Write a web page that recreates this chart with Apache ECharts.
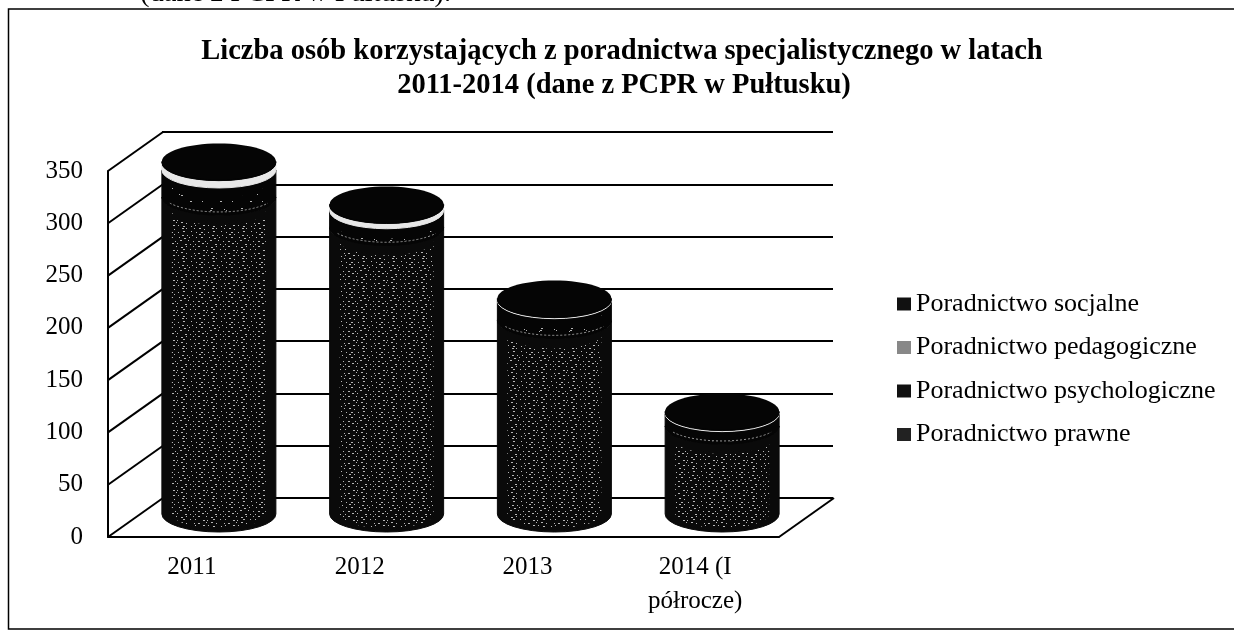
<!DOCTYPE html>
<html>
<head>
<meta charset="utf-8">
<style>html,body{margin:0;padding:0;background:#fff}#c{width:1234px;height:630px}</style>
<script src="https://cdn.jsdelivr.net/npm/echarts@6/dist/echarts.min.js"></script>
</head>
<body>
<div id="c"></div>
<script>
const categories = ['2011', '2012', '2013', '2014 (I\npółrocze)'];
const prawne = [303, 274, 185, 84];
const psychologiczne = [26, 16, 19, 12];
const pedagogiczne = [7, 5, 1, 1];
const socjalne = [1, 1, 1, 1];
const yTicks = [0, 50, 100, 150, 200, 250, 300, 350];
const seriesNames = ['Poradnictwo prawne', 'Poradnictwo psychologiczne', 'Poradnictwo pedagogiczne', 'Poradnictwo socjalne'];
const legendOrder = ['Poradnictwo socjalne', 'Poradnictwo pedagogiczne', 'Poradnictwo psychologiczne', 'Poradnictwo prawne'];
const title1 = 'Liczba osób korzystających z poradnictwa specjalistycznego w latach';
const title2 = '2011-2014 (dane z PCPR w Pułtusku)';
const cutCaption = '(dane z PCPR w Pułtusku).';

const FONT = '"Liberation Serif","Times New Roman",serif';
const DEPTH_X = 55, DEPTH_Y = -39;
const CYL_DX = 27, CYL_DY = -23, RX = 57, RY = 18;

// fixed speckle tiles for the scanned, dithered look
function tile(step) {
  const c = document.createElement('canvas');
  c.width = c.height = 30;
  const g = c.getContext('2d');
  g.fillStyle = 'rgba(255,255,255,0.7)';
  const shift = [0, 2, 1, 3, 1, 0, 2];
  for (let y = 0, row = 0; y < 30; y += step, row++) {
    for (let x = (row % 2) * step, n = 0; x < 30; x += step * 2, n++) {
      g.fillRect(x + shift[(row + n) % 7] % step, y + shift[(row * 2 + n) % 7] % 2, 1 + (n % 3 === 0 ? 1 : 0), 1);
    }
  }
  return c;
}
const denseTile = tile(3), sparseTile = tile(7);

const stacks = [prawne, psychologiczne, pedagogiczne, socjalne];
function segData(k) {
  return categories.map((_, i) => {
    let base = 0;
    for (let s = 0; s < k; s++) base += stacks[s][i];
    return [i, base, base + stacks[k][i]];
  });
}

function cylRender(fill, inner, edge) {
  return function (params, api) {
    const i = api.value(0);
    const p0 = api.coord([i, api.value(1)]);
    const p1 = api.coord([i, api.value(2)]);
    const cx = p0[0] + CYL_DX, yb = p0[1] + CYL_DY, yt = p1[1] + CYL_DY;
    const l = cx - RX, r = cx + RX;
    const body = `M${l} ${yt} L${l} ${yb} A${RX} ${RY} 0 0 0 ${r} ${yb} L${r} ${yt} A${RX} ${RY} 0 0 1 ${l} ${yt} Z`;
    const il = cx - 47, ir = cx + 47;
    const innerD = `M${il} ${yt + 14} L${il} ${yb} A47 14 0 0 0 ${ir} ${yb} L${ir} ${yt + 14} A47 14 0 0 1 ${il} ${yt + 14} Z`;
    const children = [
      { type: 'path', shape: { pathData: body }, style: { fill: fill, stroke: fill, lineWidth: 1 } },
      { type: 'ellipse', shape: { cx: cx, cy: yt, rx: RX, ry: RY }, style: { fill: fill === '#e8e8e8' ? '#000' : fill } }
    ];
    if (inner && yb - yt > 4) {
      children.push({ type: 'path', shape: { pathData: innerD }, style: { fill: { image: inner, repeat: 'repeat' } } });
    }
    if (edge) {
      const arc = `M${l + 8} ${yb + 6} A${RX} ${RY} 0 0 0 ${r - 8} ${yb + 6}`;
      children.push({ type: 'path', shape: { pathData: arc }, style: { fill: null, stroke: edge, lineWidth: 1, lineDash: [2, 2] } });
    }
    return { type: 'group', children: children };
  };
}

function wallRender(params, api) {
  const v = api.value(0);
  const band = api.size([1, 0])[0];
  const p = api.coord([0, v]);
  const x = p[0] - band / 2;
  return { type: 'line', shape: { x1: x, y1: p[1], x2: x + DEPTH_X, y2: p[1] + DEPTH_Y }, style: { stroke: '#000', lineWidth: 2 } };
}
function floorRender(params, api) {
  const band = api.size([1, 0])[0];
  const p = api.coord([categories.length - 1, 0]);
  const x = p[0] + band / 2;
  return { type: 'line', shape: { x1: x, y1: p[1], x2: x + DEPTH_X, y2: p[1] + DEPTH_Y }, style: { stroke: '#000', lineWidth: 2 } };
}

const chart = echarts.init(document.getElementById('c'), null, { renderer: 'canvas' });
chart.setOption({
  animation: false,
  backgroundColor: '#fff',
  textStyle: { fontFamily: FONT, color: '#000' },
  grid: [
    { left: 108, top: 171, width: 671, height: 366 },
    { left: 162, top: 132, width: 671, height: 366 }
  ],
  xAxis: [
    {
      type: 'category', gridIndex: 0, data: categories,
      axisLine: { lineStyle: { color: '#000', width: 2 } }, axisTick: { show: false },
      axisLabel: { fontFamily: FONT, fontSize: 25, color: '#000', margin: 13, lineHeight: 34 }
    },
    { type: 'category', gridIndex: 1, data: categories, show: false }
  ],
  yAxis: [
    {
      type: 'value', gridIndex: 0, min: 0, max: 350, interval: 50,
      axisLine: { show: true, lineStyle: { color: '#000', width: 2 } }, axisTick: { show: false },
      splitLine: { show: false },
      axisLabel: { fontFamily: FONT, fontSize: 25, color: '#000', margin: 25, padding: [3, 0, 0, 0] }
    },
    {
      type: 'value', gridIndex: 1, min: 0, max: 350, interval: 50,
      axisLine: { show: false }, axisTick: { show: false }, axisLabel: { show: false },
      splitLine: { show: true, lineStyle: { color: '#000', width: 2 } }
    }
  ],
  legend: {
    orient: 'vertical', left: 897, top: 291, padding: 0, itemWidth: 14, itemHeight: 13, itemGap: 17.5,
    icon: 'rect', data: legendOrder,
    textStyle: { fontFamily: FONT, fontSize: 26, color: '#000' }
  },
  graphic: [
    { type: 'text', z: 10, style: { x: 622, y: 52, text: title1, align: 'center', verticalAlign: 'middle', font: 'bold 28.5px ' + FONT, fill: '#000' } },
    { type: 'text', z: 10, style: { x: 624, y: 86, text: title2, align: 'center', verticalAlign: 'middle', font: 'bold 28.5px ' + FONT, fill: '#000' } },
    { type: 'text', z: 10, style: { x: 140, y: -6, text: cutCaption, align: 'left', verticalAlign: 'middle', font: '28.5px ' + FONT, fill: '#000' } },
    { type: 'rect', z: 9, shape: { x: 8.5, y: 9, width: 1240, height: 620 }, style: { fill: null, stroke: '#000', lineWidth: 1.5 } }
  ],
  series: [
    { type: 'custom', xAxisIndex: 0, yAxisIndex: 0, z: 1, silent: true, renderItem: wallRender, data: yTicks.map(v => [v]), encode: { y: 0 }, clip: false },
    { type: 'custom', xAxisIndex: 0, yAxisIndex: 0, z: 1, silent: true, renderItem: floorRender, data: [[0]], clip: false },
    { name: seriesNames[0], type: 'custom', z: 3, xAxisIndex: 0, yAxisIndex: 0, clip: false, itemStyle: { color: '#222' }, renderItem: cylRender('#0a0a0a', denseTile, null), data: segData(0), encode: { x: 0, y: [1, 2] } },
    { name: seriesNames[1], type: 'custom', z: 4, xAxisIndex: 0, yAxisIndex: 0, clip: false, itemStyle: { color: '#111' }, renderItem: cylRender('#050505', sparseTile, '#999'), data: segData(1), encode: { x: 0, y: [1, 2] } },
    { name: seriesNames[2], type: 'custom', z: 5, xAxisIndex: 0, yAxisIndex: 0, clip: false, itemStyle: { color: '#888' }, renderItem: cylRender('#e8e8e8', null, null), data: segData(2), encode: { x: 0, y: [1, 2] } },
    { name: seriesNames[3], type: 'custom', z: 6, xAxisIndex: 0, yAxisIndex: 0, clip: false, itemStyle: { color: '#111' }, renderItem: cylRender('#050505', null, null), data: segData(3), encode: { x: 0, y: [1, 2] } }
  ]
});
</script>
</body>
</html>
